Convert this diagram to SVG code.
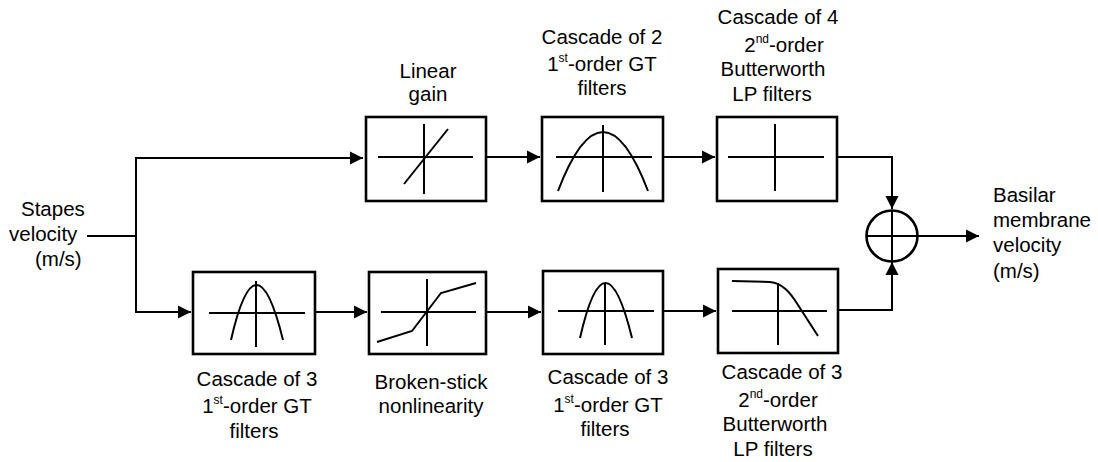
<svg xmlns="http://www.w3.org/2000/svg" width="1098" height="462" viewBox="0 0 1098 462">
  <style>
    text { font-family: "Liberation Sans", Arial, sans-serif; font-size: 20.5px; fill: #000; }
    .c { text-anchor: middle; }
    .sup { font-size: 12px; }
    .box { fill: #fff; stroke: #000; stroke-width: 2.6; }
    .ax { fill: none; stroke: #000; stroke-width: 2; }
    .wire { fill: none; stroke: #000; stroke-width: 2; }
  </style>
  <defs>
    <marker id="ah" markerUnits="userSpaceOnUse" markerWidth="14" markerHeight="14" refX="13" refY="7" orient="auto">
      <path d="M0,0.5 L13,7 L0,13.5 Z" fill="#000"/>
    </marker>
  </defs>

  <rect width="1098" height="462" fill="#fff"/>

  <!-- connectors -->
  <g id="connectors">
    <path class="wire" d="M87,236 H136 V158 H363" marker-end="url(#ah)"/>
    <path class="wire" d="M136,236 V312 H191" marker-end="url(#ah)"/>
    <path class="wire" d="M486,157 H540" marker-end="url(#ah)"/>
    <path class="wire" d="M663,157 H715" marker-end="url(#ah)"/>
    <path class="wire" d="M837,157 H892 V209" marker-end="url(#ah)"/>
    <path class="wire" d="M315,312 H367" marker-end="url(#ah)"/>
    <path class="wire" d="M486,312 H541" marker-end="url(#ah)"/>
    <path class="wire" d="M663,311 H716" marker-end="url(#ah)"/>
    <path class="wire" d="M838,310 H892 V262" marker-end="url(#ah)"/>
    <path class="wire" d="M918,236 H979" marker-end="url(#ah)"/>
  </g>

  <!-- input label -->
  <g id="input">
    <text x="21" y="216">Stapes</text>
    <text x="9" y="241">velocity</text>
    <text x="35" y="266">(m/s)</text>
  </g>

  <!-- upper path -->
  <g id="linear-gain">
    <rect class="box" x="366" y="117" width="120" height="84"/>
    <path class="ax" d="M378,157 H473 M424,124 V194"/>
    <path class="ax" d="M404,184 L448,129"/>
    <text class="c" x="428" y="78">Linear</text>
    <text class="c" x="428" y="101">gain</text>
  </g>

  <g id="gt-top">
    <rect class="box" x="542" y="117" width="121" height="84"/>
    <path class="ax" d="M556,157 H652 M603,125 V192"/>
    <path class="ax" d="M558,191 Q603,73 648,191"/>
    <text class="c" x="602" y="44">Cascade of 2</text>
    <text class="c" x="602" y="71">1<tspan class="sup" dy="-9">st</tspan><tspan dy="9">-order GT</tspan></text>
    <text class="c" x="602" y="95">filters</text>
  </g>

  <g id="lp-top">
    <rect class="box" x="717" y="117" width="120" height="84"/>
    <path class="ax" d="M728,157 H824 M775,124 V191"/>
    <text class="c" x="778" y="24">Cascade of 4</text>
    <text class="c" x="784" y="52">2<tspan class="sup" dy="-9">nd</tspan><tspan dy="9">-order</tspan></text>
    <text class="c" x="773" y="76">Butterworth</text>
    <text class="c" x="772" y="101">LP filters</text>
  </g>

  <!-- lower path -->
  <g id="gt-low-1">
    <rect class="box" x="193" y="272" width="122" height="82"/>
    <path class="ax" d="M209,313 H305 M256,281 V347"/>
    <path class="ax" d="M231,340 Q256,230 283,340"/>
    <text class="c" x="257" y="386">Cascade of 3</text>
    <text class="c" x="257" y="413">1<tspan class="sup" dy="-9">st</tspan><tspan dy="9">-order GT</tspan></text>
    <text class="c" x="254" y="438">filters</text>
  </g>

  <g id="broken-stick">
    <rect class="box" x="369" y="272" width="117" height="82"/>
    <path class="ax" d="M381,312 H476 M427,279 V346"/>
    <path class="ax" d="M377,342 L412,331 L441,293 L476,283"/>
    <text class="c" x="431" y="389">Broken-stick</text>
    <text class="c" x="431" y="413">nonlinearity</text>
  </g>

  <g id="gt-low-2">
    <rect class="box" x="543" y="271" width="120" height="83"/>
    <path class="ax" d="M558,311 H654 M605,283 V345"/>
    <path class="ax" d="M580,338 Q605,228 632,338"/>
    <text class="c" x="608" y="384">Cascade of 3</text>
    <text class="c" x="608" y="412">1<tspan class="sup" dy="-9">st</tspan><tspan dy="9">-order GT</tspan></text>
    <text class="c" x="605" y="436">filters</text>
  </g>

  <g id="lp-low">
    <rect class="box" x="718" y="269" width="120" height="84"/>
    <path class="ax" d="M732,311 H827 M778,283 V345"/>
    <path class="ax" d="M732,281 L770,282 C782,283 790,292 798,305 L818,336"/>
    <text class="c" x="782" y="379">Cascade of 3</text>
    <text class="c" x="778" y="407">2<tspan class="sup" dy="-9">nd</tspan><tspan dy="9">-order</tspan></text>
    <text class="c" x="775" y="431">Butterworth</text>
    <text class="c" x="773" y="456">LP filters</text>
  </g>

  <!-- summing junction -->
  <g id="sum">
    <circle cx="892" cy="236" r="25.5" fill="#fff" stroke="#000" stroke-width="2.6"/>
    <path class="ax" d="M866.5,236 H917.5 M892,210.5 V261.5"/>
  </g>

  <!-- output label -->
  <g id="output">
    <text x="993" y="202">Basilar</text>
    <text x="993" y="227">membrane</text>
    <text x="993" y="252">velocity</text>
    <text x="993" y="278">(m/s)</text>
  </g>
</svg>
